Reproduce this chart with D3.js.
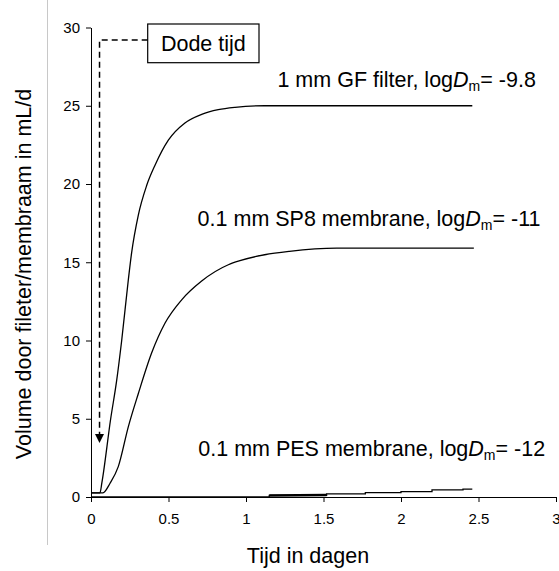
<!DOCTYPE html>
<html>
<head>
<meta charset="utf-8">
<script src="https://cdn.jsdelivr.net/npm/d3@7"></script>
<style>
  html, body { margin: 0; padding: 0; background: #fff; }
  svg { display: block; }
  text { font-family: "Liberation Sans", Arial, sans-serif; fill: #000; }
</style>
</head>
<body>
<svg id="chart" width="559" height="571"></svg>
<script>
// ---- data ----
const xTicks = [0, 0.5, 1, 1.5, 2, 2.5, 3];
const xTickLabels = ["0", "0.5", "1", "1.5", "2", "2.5", "3"];
const yTicks = [0, 5, 10, 15, 20, 25, 30];
const yTickLabels = ["0", "5", "10", "15", "20", "25", "30"];

// 1 mm GF filter
const gfTime = [0, 0.058, 0.07, 0.127, 0.165, 0.198, 0.241, 0.262, 0.305, 0.359, 0.413, 0.499, 0.606, 0.714, 0.821, 0.929, 1.12, 1.5, 2.46];
const gfVolume = [0.27, 0.27, 0.9, 5.0, 7.4, 10.0, 13.9, 15.6, 18.0, 19.9, 21.2, 22.8, 23.9, 24.45, 24.75, 24.9, 25.0, 25.0, 25.0];

// 0.1 mm SP8 membrane
const sp8Time = [0, 0.077, 0.123, 0.176, 0.241, 0.305, 0.391, 0.477, 0.585, 0.714, 0.886, 0.961, 1.12, 1.28, 1.585, 2.47];
const sp8Volume = [0.27, 0.27, 0.88, 1.94, 4.5, 6.6, 9.2, 11.1, 12.6, 13.8, 14.84, 15.1, 15.48, 15.7, 15.9, 15.9];

// 0.1 mm PES membrane (stepwise)
const pesTime = [0, 1.15, 1.52, 1.77, 2.0, 2.2, 2.4, 2.46];
const pesVolume = [0.0, 0.1, 0.2, 0.28, 0.34, 0.45, 0.5, 0.5];
const pesDenseTime = [1.15, 1.52];
const pesDenseVolume = [0.1, 0.13];

// annotation "Dode tijd" (dead time)
const deadTime = 0.055;
const deadTopVolume = 29.2;
const deadArrowVolume = 3.45;

const seriesLabels = [
  { pre: "1 mm GF filter, log", post: "= -9.8", t: 2.87, v: 26.2 },
  { pre: "0.1 mm SP8 membrane, log", post: "= -11", t: 2.9, v: 17.3 },
  { pre: "0.1 mm PES membrane, log", post: "= -12", t: 2.93, v: 2.6 }
];

// ---- drawing ----
const svg = d3.select("#chart");
const x = d3.scaleLinear().domain([0, 3]).range([91, 556]);
const y = d3.scaleLinear().domain([0, 30]).range([497, 27.5]);

// light frame line on the left
svg.append("line")
  .attr("x1", 47.5).attr("x2", 47.5).attr("y1", 0).attr("y2", 545)
  .attr("stroke", "#c8c8c8").attr("stroke-width", 1);

const yAxis = svg.append("g")
  .attr("transform", `translate(${x(0)},0)`)
  .call(d3.axisLeft(y).tickValues(yTicks).tickSize(5).tickSizeOuter(0).tickPadding(6)
    .tickFormat((d, i) => yTickLabels[i]));
const xAxis = svg.append("g")
  .attr("transform", `translate(0,${y(0)})`)
  .call(d3.axisBottom(x).tickValues(xTicks).tickSize(5).tickSizeOuter(0).tickPadding(11)
    .tickFormat((d, i) => xTickLabels[i]));
[yAxis, xAxis].forEach(g => {
  g.selectAll("text").attr("font-size", 15).attr("font-family", "Liberation Sans, Arial, sans-serif").attr("fill", "#000");
  g.select(".domain").attr("stroke", "#000");
  g.selectAll(".tick line").attr("stroke", "#000");
});

const line = d3.line().x(d => x(d[0])).y(d => y(d[1])).curve(d3.curveMonotoneX);
const stepLine = d3.line().x(d => x(d[0])).y(d => y(d[1])).curve(d3.curveStepAfter);

svg.append("path").datum(gfTime.map((t, i) => [t, gfVolume[i]]))
  .attr("d", line).attr("fill", "none").attr("stroke", "#000").attr("stroke-width", 1.3);
svg.append("path").datum(sp8Time.map((t, i) => [t, sp8Volume[i]]))
  .attr("d", line).attr("fill", "none").attr("stroke", "#000").attr("stroke-width", 1.3);
svg.append("path").datum(pesTime.map((t, i) => [t, pesVolume[i]]))
  .attr("d", stepLine).attr("fill", "none").attr("stroke", "#000").attr("stroke-width", 1.3);
svg.append("path").datum(pesDenseTime.map((t, i) => [t, pesDenseVolume[i]]))
  .attr("d", d3.line().x(d => x(d[0])).y(d => y(d[1])))
  .attr("fill", "none").attr("stroke", "#000").attr("stroke-width", 2.6);

// series labels
seriesLabels.forEach(l => {
  const t = svg.append("text")
    .attr("x", x(l.t)).attr("y", y(l.v))
    .attr("text-anchor", "end").attr("font-size", 21.5);
  t.append("tspan").text(l.pre);
  t.append("tspan").attr("font-style", "italic").text("D");
  t.append("tspan").attr("font-size", 14).attr("dy", 4).text("m");
  t.append("tspan").attr("dy", -4).text(l.post);
});

// Dode tijd annotation
const boxX = 147.7, boxY = 24, boxW = 111.3, boxH = 38.7;
svg.append("rect").attr("x", boxX).attr("y", boxY).attr("width", boxW).attr("height", boxH)
  .attr("fill", "#fff").attr("stroke", "#000").attr("stroke-width", 1.2);
svg.append("text").attr("x", boxX + boxW / 2).attr("y", boxY + boxH / 2 + 7.5)
  .attr("text-anchor", "middle").attr("font-size", 21.5).text("Dode tijd");
const arrowTipY = y(deadArrowVolume);
svg.append("path")
  .attr("d", `M${boxX},${y(deadTopVolume)} H${x(deadTime)} V${arrowTipY - 9}`)
  .attr("fill", "none").attr("stroke", "#000").attr("stroke-width", 1.5)
  .attr("stroke-dasharray", "6,4");
svg.append("path")
  .attr("d", `M${x(deadTime) - 4.5},${arrowTipY - 9} L${x(deadTime) + 4.5},${arrowTipY - 9} L${x(deadTime)},${arrowTipY} Z`)
  .attr("fill", "#000");

// axis titles
svg.append("text").attr("x", 308).attr("y", 563).attr("text-anchor", "middle")
  .attr("font-size", 21.5).text("Tijd in dagen");
svg.append("text").attr("transform", "translate(31,274) rotate(-90)")
  .attr("text-anchor", "middle").attr("font-size", 21.5)
  .text("Volume door fileter/membraam in mL/d");
</script>
</body>
</html>
